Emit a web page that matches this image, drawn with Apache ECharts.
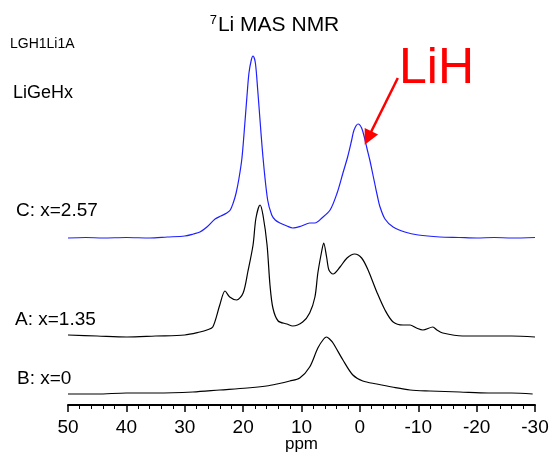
<!DOCTYPE html>
<html>
<head>
<meta charset="utf-8">
<script src="https://cdn.jsdelivr.net/npm/echarts@6/dist/echarts.min.js"></script>
<style>
  html, body { margin: 0; padding: 0; background: #fff; }
  #chart { width: 549px; height: 452px; }
</style>
</head>
<body>
<div id="chart"></div>
<script>
// Chemical shift axis ticks (ppm, plotted high to low)
const ppmTicks = [50, 40, 30, 20, 10, 0, -10, -20, -30];

// Spectrum C: x = 2.57 (blue)
const ppmC = [50, 47, 44, 40, 36, 33, 30, 28.5, 27.4, 26.2, 24.8, 23.8, 22.8, 22.2, 21.7, 21.2, 20.7, 20.2, 19.7, 19.3, 19.0, 18.6, 18.3, 17.9, 17.5, 16.6, 15.8, 15.1, 14.5, 13.7, 12.5, 11.5, 10, 8.6, 7.7, 6.5, 5.1, 3.9, 2.9, 2.1, 1.4, 1.0, 0.3, -0.3, -0.8, -1.2, -1.7, -2.1, -2.6, -3.0, -3.4, -4.3, -5.7, -7.7, -10, -13.7, -17, -20, -23, -26, -30];
const intC = [0, 0.5, 0, 0.5, 0, 1, 2, 4, 6, 11, 19, 22, 25, 28, 35, 45, 60, 80, 115, 145, 165, 178, 182, 175, 148, 81, 38, 23, 18, 15, 12, 10, 12, 15, 15, 20, 28, 45, 65, 81, 98, 108, 114, 110, 100, 90, 78, 67, 53, 42, 32, 19, 11, 6, 3, 1, 0.5, 0, 0.5, 0, 0.5];

// Spectrum A: x = 1.35
const ppmA = [50, 45, 39.9, 35, 30, 27.4, 26.2, 25.2, 24.0, 23.1, 22.3, 21.1, 20.0, 19.2, 18.3, 17.8, 17.1, 16.6, 15.9, 15.4, 14.9, 14.0, 12.5, 11.5, 9.8, 8.6, 7.7, 7.2, 6.5, 6.2, 5.7, 5.3, 4.6, 3.4, 2.2, 0.9, -0.3, -1.4, -2.9, -4.3, -5.7, -7.4, -8.6, -9.7, -10.8, -12.5, -13.2, -14.2, -17.6, -22, -26, -30];
const intA = [1, 0, -1, 0, 1, 4, 6, 9, 31, 45, 39, 36, 43, 64, 91, 118, 131, 121, 91, 51, 28, 15, 12, 10, 14, 23, 39, 63, 86, 93, 79, 66, 62, 69, 78, 82, 78, 66, 44, 26, 14, 11, 11, 8, 6, 9, 6, 3, 0, 0, 0, -1];

// Spectrum B: x = 0
const ppmB = [50, 45, 40, 35, 28.6, 24, 19.3, 16, 14.2, 12, 10.3, 8.6, 7.2, 6.2, 5.7, 5.2, 4.6, 2.9, 1.2, -0.5, -2.9, -5.5, -8.6, -12, -17.1, -22, -26, -29.6];
const intB = [-1, -1, 0, 0, 1, 3, 5, 7, 9, 12, 15, 26, 45, 54, 56, 54, 50, 33, 18, 12, 9, 6, 3, 2, 1, 0, 0, -1];

// Vertical stacking offsets for each trace
const offsetC = 167;
const offsetA = 69;
const offsetB = 12;

function trace(ppm, inten, offset) {
  return ppm.map((p, i) => [p, inten[i] + offset]);
}

const chart = echarts.init(document.getElementById('chart'));

chart.setOption({
  animation: false,
  backgroundColor: '#ffffff',
  title: {
    text: '{sup|7}{t|Li MAS NMR}',
    left: 'center',
    top: 9,
    textStyle: {
      fontWeight: 'normal',
      rich: {
        sup: { fontSize: 13, fontFamily: 'Liberation Sans', fontWeight: 'normal', color: '#000', verticalAlign: 'top', padding: [0, 1, 10, 0] },
        t: { fontSize: 21, fontFamily: 'Liberation Sans', fontWeight: 'normal', color: '#000' }
      }
    }
  },
  grid: { left: 68, right: 14, top: 40, bottom: 47, outerBoundsMode: 'none', containLabel: false },
  xAxis: {
    type: 'value',
    min: -30,
    max: 50,
    interval: 10,
    inverse: true,
    name: 'ppm',
    nameLocation: 'middle',
    nameGap: 31,
    nameMoveOverlap: false,
    nameTextStyle: { fontSize: 17, fontFamily: 'Liberation Sans', color: '#000', verticalAlign: 'top', lineHeight: 17 },
    axisLine: { onZero: false, lineStyle: { color: '#000', width: 2 } },
    axisTick: { length: 7, lineStyle: { color: '#000', width: 1.5 } },
    minorTick: { show: true, splitNumber: 5, length: 4, lineStyle: { color: '#000', width: 1 } },
    splitLine: { show: false },
    axisLabel: {
      fontSize: 19, fontFamily: 'Liberation Sans', color: '#000', margin: 13,
      formatter: v => (ppmTicks.includes(v) ? String(v) : '')
    }
  },
  yAxis: { type: 'value', min: 0, max: 365, show: false },
  series: [
    {
      name: 'C: x=2.57',
      type: 'line',
      data: trace(ppmC, intC, offsetC),
      showSymbol: false,
      smooth: 0.3,
      lineStyle: { color: '#1f1fff', width: 1.2 },
      markLine: {
        silent: true,
        symbol: ['none', 'triangle'],
        symbolSize: 15,
        label: { show: false },
        lineStyle: { color: '#ff0000', width: 2.5, type: 'solid' },
        data: [[{ coord: [-6.5, 327] }, { coord: [-1.4, 267] }]]
      }
    },
    {
      name: 'A: x=1.35',
      type: 'line',
      data: trace(ppmA, intA, offsetA),
      showSymbol: false,
      smooth: 0.3,
      lineStyle: { color: '#000', width: 1.2 }
    },
    {
      name: 'B: x=0',
      type: 'line',
      data: trace(ppmB, intB, offsetB),
      showSymbol: false,
      smooth: 0.3,
      lineStyle: { color: '#000', width: 1.2 }
    }
  ],
  graphic: [
    { type: 'text', left: 10, top: 37, style: { text: 'LGH1Li1A', fontSize: 14, fontFamily: 'Liberation Sans', fill: '#000' } },
    { type: 'text', left: 13, top: 84, style: { text: 'LiGeHx', fontSize: 18, fontFamily: 'Liberation Sans', fill: '#000' } },
    { type: 'text', left: 16, top: 201, style: { text: 'C: x=2.57', fontSize: 19, fontFamily: 'Liberation Sans', fill: '#000' } },
    { type: 'text', left: 15, top: 310, style: { text: 'A: x=1.35', fontSize: 19, fontFamily: 'Liberation Sans', fill: '#000' } },
    { type: 'text', left: 17, top: 369, style: { text: 'B: x=0', fontSize: 19, fontFamily: 'Liberation Sans', fill: '#000' } },
    { type: 'text', left: 399, top: 44, style: { text: 'LiH', fontSize: 50, fontFamily: 'Liberation Sans', fill: '#ff0000' } }
  ]
});
</script>
</body>
</html>
